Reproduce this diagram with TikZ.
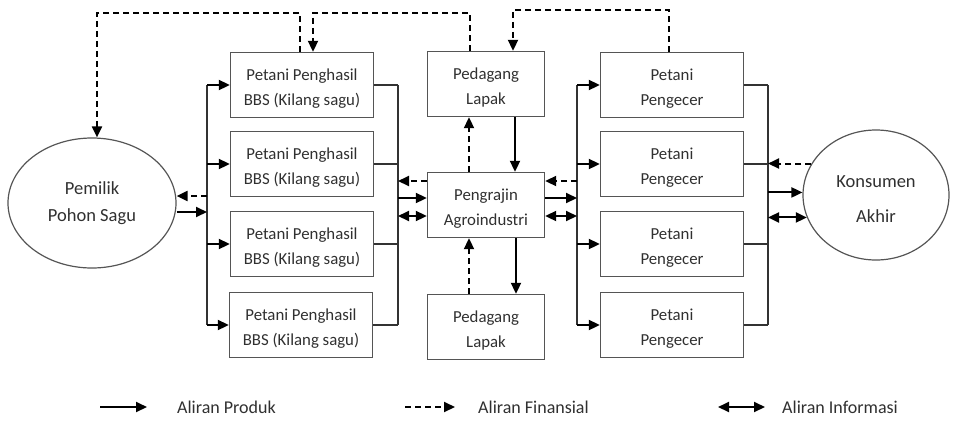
\documentclass[tikz,border=0pt]{standalone}
\usepackage{fontspec}
\setmainfont{Carlito}
\usetikzlibrary{arrows.meta,shapes.geometric,calc}
\definecolor{boxc}{HTML}{555555}
\definecolor{txt}{HTML}{303030}
\newcommand{\topstrut}{\rule{0pt}{19pt}}
\begin{document}
\begin{tikzpicture}[x=1pt,y=-1pt,
  box/.style={draw=boxc, line width=1.4pt, minimum width=143pt, minimum height=65pt, inner sep=0pt, align=center, text=txt, font=\fontsize{16.8}{25.5}\selectfont},
  cbox/.style={box, minimum width=117pt, minimum height=65pt},
  oval/.style={ellipse, draw=boxc, line width=1.2pt, inner sep=0pt, align=center, text=txt, font=\fontsize{18.5}{27}\selectfont},
  prod/.style={line width=2pt, draw=black, -{Triangle[length=11pt,width=10pt]}},
  fin/.style={prod, dash pattern=on 6pt off 4pt},
  info/.style={line width=2pt, draw=black, {Triangle[length=11pt,width=10pt]}-{Triangle[length=11pt,width=10pt]}},
  bus/.style={line width=1.5pt, draw=black!80},
  leg/.style={anchor=west, inner sep=0pt, text=txt, font=\fontsize{18}{22}\selectfont}]
\useasboundingbox (0,0) rectangle (953,421);

% ellipses
\node[oval, minimum width=168pt, minimum height=130pt] (pem) at (92,203) {Pemilik\\Pohon Sagu};
\node[oval, minimum width=146pt, minimum height=130pt, font=\fontsize{18.5}{35}\selectfont] (kon) at (876,195) {\rule{0pt}{20pt}Konsumen\\Akhir};

% left column
\node[box] (pp1) at (302,85) {\topstrut Petani Penghasil\\BBS (Kilang sagu)};
\node[box] (pp2) at (302,164) {\topstrut Petani Penghasil\\BBS (Kilang sagu)};
\node[box] (pp3) at (302,244) {\topstrut Petani Penghasil\\BBS (Kilang sagu)};
\node[box] (pp4) at (301,325) {\topstrut Petani Penghasil\\BBS (Kilang sagu)};

% centre column
\node[cbox] (lap1) at (486,84) {\topstrut Pedagang\\Lapak};
\node[cbox] (peng) at (486,205) {\topstrut Pengrajin\\Agroindustri};
\node[cbox] (lap2) at (486,327) {\topstrut Pedagang\\Lapak};

% right column
\node[box] (pg1) at (672,85) {\topstrut Petani\\Pengecer};
\node[box] (pg2) at (672,164) {\topstrut Petani\\Pengecer};
\node[box] (pg3) at (672,244) {\topstrut Petani\\Pengecer};
\node[box] (pg4) at (672,325) {\topstrut Petani\\Pengecer};

% bus coordinates
\coordinate (LA) at (207,0);
\coordinate (LB) at (398,0);
\coordinate (RA) at (577,0);
\coordinate (RB) at (768,0);
\coordinate (eP) at (0,212);
\coordinate (eF) at (0,196);
\coordinate (pF) at (0,181);
\coordinate (pP) at (0,198);
\coordinate (pI) at (0,216);

% left buses
\draw[bus] (LA |- pp1) -- (LA |- pp4);
\foreach \n in {pp1,pp2,pp3,pp4} \draw[prod] (LA |- \n) -- (\n.west);
\draw[bus] (LB |- pp1) -- (LB |- pp4);
\foreach \n in {pp1,pp2,pp3,pp4} \draw[bus] (\n.east) -- (LB |- \n);

% Pemilik links
\draw[prod] (pem.east |- eP) -- (LA |- eP);
\draw[fin] (LA |- eF) -- (pem.east |- eF);

% right buses
\draw[bus] (RA |- pg1) -- (RA |- pg4);
\foreach \n in {pg1,pg2,pg3,pg4} \draw[prod] (RA |- \n) -- (\n.west);
\draw[bus] (RB |- pg1) -- (RB |- pg4);
\foreach \n in {pg1,pg2,pg3,pg4} \draw[bus] (\n.east) -- (RB |- \n);

% Pengrajin links
\draw[fin] (peng.west |- pF) -- (LB |- pF);
\draw[prod] (LB |- pP) -- (peng.west |- pP);
\draw[info] (LB |- pI) -- (peng.west |- pI);
\draw[fin] (RA |- pF) -- (peng.east |- pF);
\draw[prod] (peng.east |- pP) -- (RA |- pP);
\draw[info] (peng.east |- pI) -- (RA |- pI);

% Lapak links
\draw[prod] ([xshift=29pt]lap1.south) -- ([xshift=29pt]peng.north);
\draw[fin] ([xshift=-17pt]peng.north) -- ([xshift=-17pt]lap1.south);
\draw[prod] ([xshift=30pt]peng.south) -- ([xshift=30pt]lap2.north);
\draw[fin] ([xshift=-17pt]lap2.north) -- ([xshift=-17pt]peng.south);

% Konsumen links
\draw[fin] (kon.154) -- (RB |- kon.154);
\draw[prod] (RB |- kon.178) -- (kon.178);
\draw[info] (RB |- kon.198) -- (kon.198);

% top financial loops
\draw[fin] ([xshift=-2pt]pp1.north) -- ++(0,-39) -| ([xshift=5pt]pem.north);
\draw[fin] ([xshift=-16pt]lap1.north) -- ++(0,-38) -| ([xshift=11pt]pp1.north);
\draw[fin] ([xshift=-3pt]pg1.north) -- ++(0,-42) -| ([xshift=27pt]lap1.north);

% legend
\coordinate (l1a) at (100,407);
\coordinate (l1b) at (147,407);
\coordinate (l2a) at (405,407);
\coordinate (l2b) at (455,407);
\coordinate (l3a) at (718,407);
\coordinate (l3b) at (765,407);
\draw[prod] (l1a) -- (l1b);
\draw[fin] (l2a) -- (l2b);
\draw[info] (l3a) -- (l3b);
\node[leg] (t1) at (177,407) {Aliran Produk};
\node[leg] (t2) at (478,407) {Aliran Finansial};
\node[leg] (t3) at (782,407) {Aliran Informasi};
\end{tikzpicture}
\end{document}
